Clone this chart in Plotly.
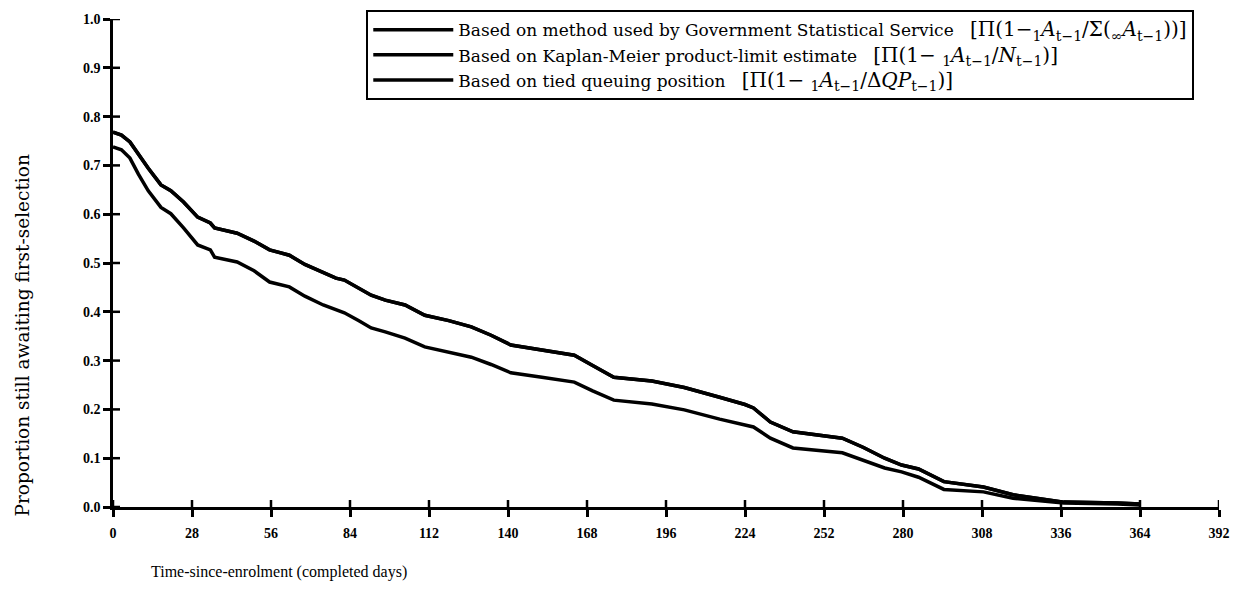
"""Proportion still awaiting first-selection, by time since enrolment."""

import plotly.graph_objects as go

DAYS = [0, 3, 6, 9, 12.5, 17, 20.5, 25, 30, 34.5, 36, 44, 50, 55.5, 62.5,
        68, 74.5, 79, 82, 87, 91.5, 96.5, 103.5, 110.5, 119, 127, 134, 141,
        152, 163.5, 170, 177.5, 191, 202.5, 215, 224, 227, 233, 241, 258.5,
        266, 273.5, 279.5, 285.5, 294.5, 308.5, 319, 337, 356, 364]

UPPER = [0.768, 0.762, 0.748, 0.722, 0.694, 0.660, 0.648, 0.625, 0.594, 0.582,
         0.572, 0.561, 0.545, 0.527, 0.516, 0.497, 0.480, 0.469, 0.465, 0.448,
         0.434, 0.424, 0.414, 0.393, 0.382, 0.369, 0.352, 0.332, 0.322, 0.311,
         0.290, 0.266, 0.258, 0.245, 0.225, 0.210, 0.203, 0.174, 0.154, 0.141,
         0.122, 0.100, 0.086, 0.078, 0.052, 0.041, 0.025, 0.010, 0.008, 0.006]

LOWER = [0.738, 0.732, 0.715, 0.682, 0.648, 0.614, 0.601, 0.572, 0.537, 0.527,
         0.512, 0.502, 0.484, 0.461, 0.451, 0.432, 0.414, 0.404, 0.398, 0.382,
         0.367, 0.359, 0.346, 0.328, 0.318, 0.307, 0.292, 0.275, 0.266, 0.256,
         0.238, 0.219, 0.211, 0.199, 0.180, 0.168, 0.164, 0.141, 0.121, 0.111,
         0.096, 0.080, 0.072, 0.061, 0.036, 0.031, 0.018, 0.008, 0.006, 0.004]

X_TICKS = list(range(0, 393, 28))
Y_TICKS = [i / 10 for i in range(11)]

FORMULA = "<span style='font-size:20px'>{}</span>"
SERIES = [
    ("Based on method used by Government Statistical Service   "
     + FORMULA.format("[Π(1−<sub>1</sub><i>A</i><sub>t−1</sub>/"
                      "Σ(<sub>∞</sub><i>A</i><sub>t−1</sub>))]"),
     LOWER),
    ("Based on Kaplan-Meier product-limit estimate   "
     + FORMULA.format("[Π(1− <sub>1</sub><i>A</i><sub>t−1</sub>/"
                      "<i>N</i><sub>t−1</sub>)]"),
     UPPER),
    ("Based on tied queuing position   "
     + FORMULA.format("[Π(1− <sub>1</sub><i>A</i><sub>t−1</sub>/"
                      "Δ<i>QP</i><sub>t−1</sub>)]"),
     UPPER),
]

SERIF = "Liberation Serif"
WIDE_SERIF = "DejaVu Serif"

fig = go.Figure()
for name, values in SERIES:
    fig.add_trace(
        go.Scatter(
            x=DAYS,
            y=values,
            mode="lines",
            name=name,
            line=dict(color="black", width=3.5),
        )
    )

axis_common = dict(
    showgrid=False,
    zeroline=False,
    showline=True,
    linecolor="black",
    linewidth=2.5,
    ticks="outside",
    ticklen=7,
    tickwidth=2.5,
    tickcolor="black",
    automargin=False,
    tickfont=dict(family=SERIF, size=14, color="black", weight="bold"),
)

# inner half of the ticks, so they cross the axis lines like in the original
tick_shapes = [
    dict(type="line", xref="x", yref="y", x0=t, x1=t,
         ysizemode="pixel", yanchor=0, y0=0, y1=7,
         line=dict(color="black", width=2.5))
    for t in X_TICKS
] + [
    dict(type="line", xref="x", yref="y", y0=v, y1=v,
         xsizemode="pixel", xanchor=0, x0=0, x1=7,
         line=dict(color="black", width=2.5))
    for v in Y_TICKS
]

# margins allow for the 8px body margin of the written page
fig.update_layout(
    width=1249,
    height=595,
    margin=dict(l=105, r=38, t=11, b=96, autoexpand=False),
    paper_bgcolor="white",
    plot_bgcolor="white",
    showlegend=True,
    legend=dict(
        x=0.229,
        y=1.018,
        xanchor="left",
        yanchor="top",
        bordercolor="black",
        borderwidth=2,
        bgcolor="white",
        itemwidth=80,
        font=dict(family=WIDE_SERIF, size=17, color="black"),
        tracegroupgap=0,
    ),
    xaxis=dict(
        axis_common,
        range=[0, 392],
        tickvals=X_TICKS,
        ticktext=[str(v) for v in X_TICKS],
        ticklabelstandoff=4,
    ),
    yaxis=dict(
        axis_common,
        range=[0, 1],
        tickvals=Y_TICKS,
        tickformat=".1f",
    ),
    shapes=tick_shapes,
    annotations=[
        dict(
            text="Proportion still awaiting first-selection",
            xref="paper", yref="paper", x=-0.082, y=0.352,
            xanchor="center", yanchor="middle",
            textangle=-90, showarrow=False,
            font=dict(family=WIDE_SERIF, size=18.5, color="black"),
        ),
        dict(
            text="Time-since-enrolment (completed days)",
            xref="paper", yref="paper", x=0.033, y=-0.155,
            xanchor="left", showarrow=False,
            font=dict(family=SERIF, size=16, color="black"),
        ),
    ],
)

fig.write_html("out.html")
